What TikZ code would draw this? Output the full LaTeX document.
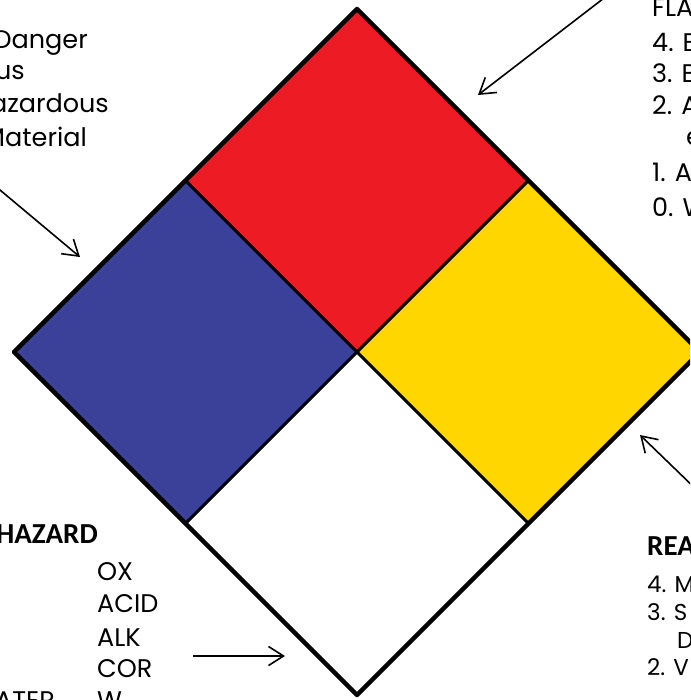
\documentclass[tikz,border=0pt]{standalone}
\usepackage{fontspec}
\setmainfont{Poppins}
\newfontfamily\boldcal{Carlito}[UprightFont=* Bold]
\usetikzlibrary{arrows.meta}
\definecolor{nfpared}{HTML}{ED1C24}
\definecolor{nfpablue}{HTML}{3B4199}
\definecolor{nfpayellow}{HTML}{FFD600}
\tikzset{
  quad/.style={draw=black, line width=3pt, line join=round},
  outer/.style={draw=black, line width=4.5pt, line join=round},
  pointer/.style={draw=black, line width=1.6pt, -{Straight Barb[length=15pt,width=19pt,line width=1.6pt]}},
  lbl/.style={inner sep=0pt, font=\fontsize{25.5}{30}\selectfont},
  lblsmall/.style={inner sep=0pt, font=\fontsize{23}{27}\selectfont},
  lblbold/.style={inner sep=0pt, font=\boldcal\fontsize{29}{34}\selectfont},
}
\begin{document}
\begin{tikzpicture}[x=1pt,y=-1pt]
\useasboundingbox (0,0) rectangle (690,700);
\clip (0,0) rectangle (690,700);
% diamond corners
\coordinate (T) at (357,9);
\coordinate (L) at (14,352);
\coordinate (R) at (700,352);
\coordinate (B) at (357,695);
\coordinate (C) at (357,352);
\coordinate (TL) at (185.5,180.5);
\coordinate (TR) at (528.5,180.5);
\coordinate (BR) at (528.5,523.5);
\coordinate (BL) at (185.5,523.5);
% quadrants
\fill[nfpared] (T) -- (TR) -- (C) -- (TL) -- cycle;
\fill[nfpablue] (TL) -- (C) -- (BL) -- (L) -- cycle;
\fill[nfpayellow] (TR) -- (R) -- (BR) -- (C) -- cycle;
\fill[white] (C) -- (BR) -- (B) -- (BL) -- cycle;
\draw[quad] (TL) -- (BR);
\draw[quad] (TR) -- (BL);
\draw[outer] (T) -- (R) -- (B) -- (L) -- cycle;

% top-left legend (health)
\node[lbl, anchor=base east] (h1) at (88,49) {Danger};
\node[lbl, anchor=base east] (h2) at (25,80) {us};
\node[lbl, anchor=base east] (h3) at (109,113) {azardous};
\node[lbl, anchor=base east] (h4) at (87,147) {Material};

% top-right legend (flammability)
\node[lbl, anchor=base west] (f0) at (652,17) {FLA};
\node[lbl, anchor=base west] (f4) at (652,52) {4. B};
\node[lbl, anchor=base west] (f3) at (652,83) {3. B};
\node[lbl, anchor=base west] (f2) at (652,115) {2. A};
\node[lbl, anchor=base west] (f2b) at (686,146) {e};
\node[lbl, anchor=base west] (f1) at (652,182) {1. A};
\node[lbl, anchor=base west] (f00) at (652,217) {0. W};

% bottom-left legend (special hazard)
\node[lblbold, anchor=base east] (s0) at (98,543) {HAZARD};
\node[lbl, anchor=base west] (s1) at (97,580) {OX};
\node[lbl, anchor=base west] (s2) at (97,612) {ACID};
\node[lbl, anchor=base west] (s3) at (97,646) {ALK};
\node[lbl, anchor=base west] (s4) at (97,677) {COR};
\node[lbl, anchor=base west] (s5) at (97,709) {W};
\node[lbl, anchor=base east] (s6) at (55,709) {ATER};

% bottom-right legend (reactivity)
\node[lblbold, anchor=base west] (r0) at (647,555) {REA};
\node[lblsmall, anchor=base west] (r4) at (647,592) {4. M};
\node[lblsmall, anchor=base west] (r3) at (647,620) {3. S};
\node[lblsmall, anchor=base west] (r3b) at (677,648) {D};
\node[lblsmall, anchor=base west] (r2) at (647,675) {2. V};

% pointers
\coordinate (a1s) at (608,-5);
\coordinate (a1e) at (478,95);
\coordinate (a2s) at (-6,185);
\coordinate (a2e) at (80,257);
\coordinate (a3s) at (702,495);
\coordinate (a3e) at (640,435);
\coordinate (a4s) at (193,656);
\coordinate (a4e) at (285,656);
\draw[pointer] (a1s) -- (a1e);
\draw[pointer] (a2s) -- (a2e);
\draw[pointer] (a3s) -- (a3e);
\draw[pointer] (a4s) -- (a4e);
\end{tikzpicture}
\end{document}
